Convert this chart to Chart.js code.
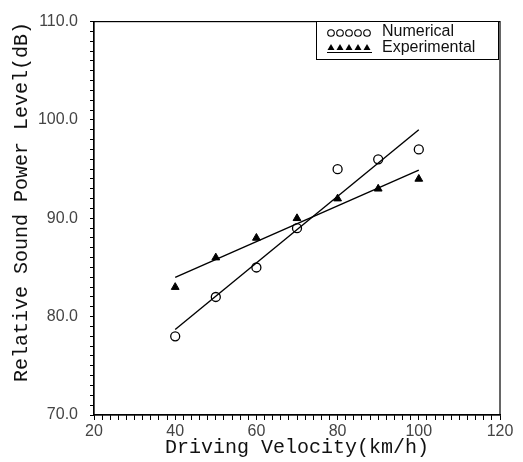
<!DOCTYPE html>
<html lang="en">
<head>
  <meta charset="UTF-8" />
  <title>Sound Power vs Driving Velocity</title>
  <script src="https://cdn.jsdelivr.net/npm/chart.js"></script>
  <style>
    html, body { margin: 0; padding: 0; background: #fff; }
    #wrap { width: 523px; height: 462px; }
  </style>
</head>
<body>
  <div id="wrap"><canvas id="soundChart" width="523" height="462"></canvas></div>

  <script>
    // velocities (km/h)
    const velocity = [40, 50, 60, 70, 80, 90, 100];
    const numerical = [78, 82, 85, 89, 95, 96, 97];
    const experimental = [83, 86, 88, 90, 92, 93, 94];

    // fitted straight lines (end points)
    const fitX = [40, 100];
    const numericalFit = [78.7, 99.0];
    const experimentalFit = [84.0, 94.9];

    const legendLabels = ['Numerical', 'Experimental'];
    const yTitle = 'Relative Sound Power Level(dB)';

    const toPoints = (xs, ys) => xs.map((x, i) => ({ x: x, y: ys[i] }));

    // frame, y title and boxed legend
    const framePlugin = {
      id: 'frame',
      afterDraw(chart) {
        const ctx = chart.ctx;
        const a = chart.chartArea;
        ctx.save();
        ctx.strokeStyle = '#000';
        ctx.lineWidth = 1.2;
        ctx.strokeRect(a.left, a.top, a.right - a.left, a.bottom - a.top);

        // y axis title (sits a bit above the middle in the original)
        ctx.save();
        ctx.translate(22, 202);
        ctx.rotate(-Math.PI / 2);
        ctx.fillStyle = '#111';
        ctx.font = '20px "Liberation Mono", "Courier New", monospace';
        ctx.textAlign = 'center';
        ctx.textBaseline = 'middle';
        ctx.fillText(yTitle, 0, 0);
        ctx.restore();

        // legend box
        const bx = 316, by = 21, bw = 182, bh = 38;
        ctx.fillStyle = '#fff';
        ctx.fillRect(bx, by, bw, bh);
        ctx.lineWidth = 1;
        ctx.strokeRect(bx + 0.5, by + 0.5, bw, bh);

        ctx.fillStyle = '#111';
        ctx.font = '16px "Liberation Sans", Arial, sans-serif';
        ctx.textBaseline = 'middle';
        ctx.fillText(legendLabels[0], 382, 32);
        ctx.fillText(legendLabels[1], 382, 48);

        // five symbols each
        ctx.lineWidth = 1.1;
        ctx.strokeStyle = '#000';
        ctx.fillStyle = '#000';
        for (let i = 0; i < 5; i++) {
          const cx = 331 + i * 9;
          ctx.beginPath();
          ctx.arc(cx, 33, 3.3, 0, Math.PI * 2);
          ctx.stroke();
          ctx.beginPath();
          ctx.moveTo(cx, 44);
          ctx.lineTo(cx + 3.5, 50);
          ctx.lineTo(cx - 3.5, 50);
          ctx.closePath();
          ctx.fill();
        }
        ctx.beginPath();
        ctx.moveTo(327, 52.5);
        ctx.lineTo(372, 52.5);
        ctx.stroke();
        ctx.restore();
      }
    };

    const tickFont = { family: '"Liberation Sans", Arial, sans-serif', size: 16 };
    const titleFont = { family: '"Liberation Mono", "Courier New", monospace', size: 20 };

    new Chart(document.getElementById('soundChart'), {
      type: 'scatter',
      data: {
        datasets: [
          {
            label: legendLabels[0],
            data: toPoints(velocity, numerical),
            pointStyle: 'circle',
            pointRadius: 4.5,
            pointBorderWidth: 1.3,
            borderColor: '#000',
            backgroundColor: 'rgba(255,255,255,0)'
          },
          {
            label: legendLabels[1],
            data: toPoints(velocity, experimental),
            pointStyle: 'triangle',
            pointRadius: 4.5,
            borderColor: '#000',
            backgroundColor: '#000'
          },
          {
            label: 'numerical fit',
            type: 'line',
            data: toPoints(fitX, numericalFit),
            borderColor: '#000',
            borderWidth: 1.4,
            pointRadius: 0,
            fill: false
          },
          {
            label: 'experimental fit',
            type: 'line',
            data: toPoints(fitX, experimentalFit),
            borderColor: '#000',
            borderWidth: 1.4,
            pointRadius: 0,
            fill: false
          }
        ]
      },
      options: {
        responsive: false,
        animation: false,
        layout: { padding: { top: 13, right: 23, left: 0, bottom: 0 } },
        plugins: {
          legend: { display: false },
          tooltip: { enabled: false }
        },
        scales: {
          x: {
            type: 'linear',
            min: 20,
            max: 120,
            afterFit: s => { s.height = 47; },
            border: { display: true, color: '#000', width: 1.2 },
            grid: { drawOnChartArea: false, tickLength: 5, color: '#000' },
            ticks: {
              stepSize: 2,
              autoSkip: false,
              maxRotation: 0,
              padding: 2,
              color: '#444',
              font: tickFont,
              callback: v => (v % 20 === 0 ? String(v) : '')
            },
            title: {
              display: true,
              text: 'Driving Velocity(km/h)',
              color: '#111',
              font: titleFont,
              padding: { top: 0, bottom: 2 }
            }
          },
          y: {
            min: 70,
            max: 110,
            afterFit: s => { s.width = 94; },
            border: { display: true, color: '#000', width: 1.2 },
            grid: { drawOnChartArea: false, tickLength: 4, color: '#000' },
            ticks: {
              stepSize: 1,
              autoSkip: false,
              padding: 12,
              color: '#444',
              font: tickFont,
              callback: v => (v % 10 === 0 ? v.toFixed(1) : '')
            },
            title: { display: false }
          }
        }
      },
      plugins: [framePlugin]
    });
  </script>
</body>
</html>
